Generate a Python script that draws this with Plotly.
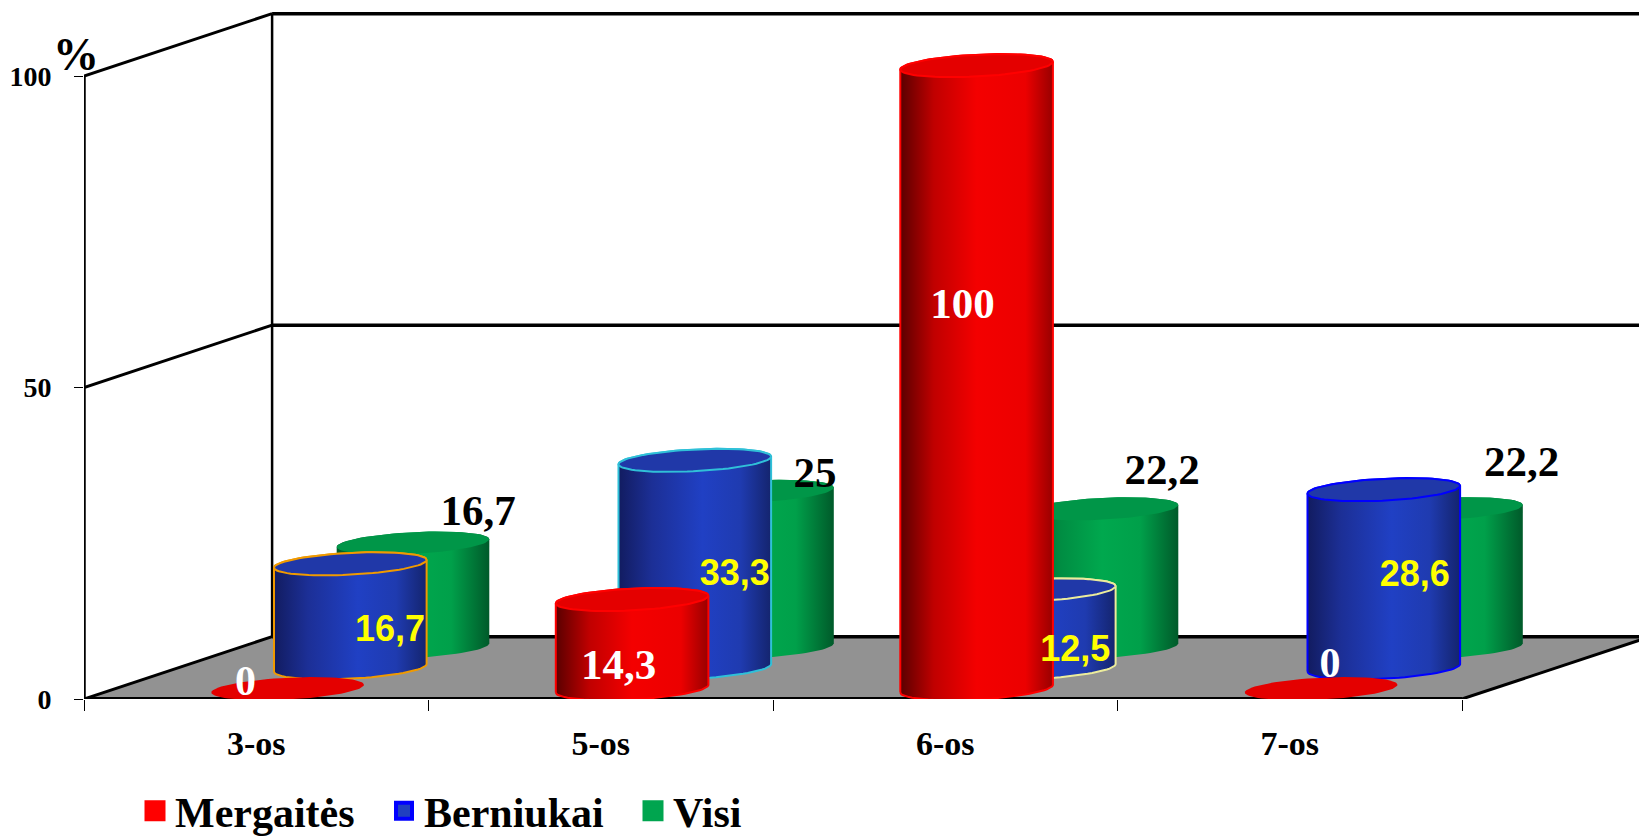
import numpy as np
import plotly.graph_objects as go

# ---- data ----
categories = ["3-os", "5-os", "6-os", "7-os"]
mergaites = [0, 14.3, 100, 0]
berniukai = [16.7, 33.3, 12.5, 28.6]
visi = [16.7, 25, 22.2, 22.2]
y_ticks = [0, 50, 100]

# ---- projection of the pseudo-3D chart, in axis units ----
PX_X, PX_Y = 344.5, 6.23          # pixels per category, per percent
DEPTH_X, DEPTH_Y = 0.546, 10.0    # offset of the back wall
RAD_X = 0.2215                    # cylinder half width
RAD_Y, TILT = 1.75, 0.62          # ellipse half height and shear
LABEL_DROP = 3.0                  # px

FRONT_Y = 699
X_MAX = (1639 - 84) / PX_X
Y_MAX = FRONT_Y / PX_Y


def scale_x(dx_px):
    return dx_px / PX_X


def scale_y(dy_px):
    return dy_px / PX_Y


def ellipse(cx, cy, t):
    return cx + RAD_X * np.cos(t), cy + RAD_Y * np.sin(t) + TILT * np.cos(t)


series = [
    dict(name="Visi", values=visi, row=2, swatch="#00a54f", swatch_line="#00a54f", swatch_w=5,
         top="#009648", outlines=[None] * 4,
         scale=[[0, "#005a2a"], [0.22, "#008c42"], [0.5, "#00a84e"], [0.75, "#00a04a"], [1, "#005a2a"]],
         shifts=[(65, 32), (57.5, 18), (60, 39), (75, 47)],
         font=dict(family="Liberation Serif", size=43, color="black", weight="bold")),
    dict(name="Berniukai", values=berniukai, row=1, swatch="#2040c0", swatch_line="#0000ff", swatch_w=4,
         top="#2038a8", outlines=["#f09a00", "#30c0d8", "#ecec9c", "#0000ff"],
         scale=[[0, "#121c60"], [0.22, "#1c2f96"], [0.55, "#2040c4"], [0.8, "#1f3bb0"], [1, "#14246e"]],
         shifts=[(39.7, -65), (40, -113), (36, -59), (31, -84)],
         font=dict(family="Liberation Sans", size=36, color="#ffff00", weight="bold")),
    dict(name="Mergaitės", values=mergaites, row=0, swatch="#ff0000", swatch_line="#ff0000", swatch_w=5,
         top="#e40000", outlines=["#ff0000"] * 4,
         scale=[[0, "#5a0000"], [0.22, "#c00000"], [0.5, "#f40000"], [0.82, "#ec0000"], [1, "#980000"]],
         shifts=[(-42, 7.6), (-13.4, -66), (-14, -239), (9, 25)],
         font=dict(family="Liberation Serif", size=[42, 43, 43, 42], color="white",
                   weight=["bold", "bold", "bold", "bold"])),
]

fig = go.Figure()

# legend entries
for s in reversed(series):
    fig.add_trace(go.Scatter(
        x=[None], y=[None], mode="markers", name=s["name"],
        marker=dict(symbol="square", size=16, color=s["swatch"],
                    line=dict(color=s["swatch_line"], width=s["swatch_w"])),
    ))


def line(xs, ys, width=2.5, color="black"):
    fig.add_trace(go.Scatter(x=xs, y=ys, mode="lines", showlegend=False, hoverinfo="skip",
                             cliponaxis=False if max(xs) <= 4 else True,
                             line=dict(color=color, width=width)))


n = len(categories)
# floor
fig.add_trace(go.Scatter(
    x=[0, n, n + DEPTH_X, DEPTH_X, 0], y=[0, 0, DEPTH_Y, DEPTH_Y, 0],
    mode="lines", fill="toself", fillcolor="#929292", showlegend=False, hoverinfo="skip",
    line=dict(color="rgba(0,0,0,0)", width=0),
))
# walls and floor edges
top = y_ticks[-1]
mid = y_ticks[1]
line([0, 0], [0, top], 3.5)
line([0, DEPTH_X], [top, top + DEPTH_Y], 3)
line([0, DEPTH_X], [mid, mid + DEPTH_Y], 3)
line([0, DEPTH_X], [0, DEPTH_Y], 3)
line([DEPTH_X, DEPTH_X], [DEPTH_Y, top + DEPTH_Y], 2.5)
line([DEPTH_X, n + DEPTH_X], [top + DEPTH_Y] * 2, 3.5)
line([DEPTH_X, n + DEPTH_X], [mid + DEPTH_Y] * 2, 3.5)
line([DEPTH_X, n + DEPTH_X], [DEPTH_Y] * 2, 3.5)
line([n, n + DEPTH_X], [0, DEPTH_Y], 3)
line([0, n], [0, 0], 4)

# cylinders, back row first
t_front = np.linspace(np.pi, 2 * np.pi, 40)
t_back = np.linspace(0, np.pi, 40)
t_full = np.linspace(0, 2 * np.pi, 80)
for s in series:
    f = (s["row"] + 0.5) / 3
    for i, v in enumerate(s["values"]):
        cx = i + 0.5 + f * DEPTH_X
        base = f * DEPTH_Y
        outline = s["outlines"][i]
        if v > 0:
            bx, by = ellipse(cx, base, t_front)
            tx, ty = ellipse(cx, base + v, t_back)
            fig.add_trace(go.Scatter(
                x=np.r_[bx, tx, bx[0]], y=np.r_[by, ty, by[0]],
                mode="lines", fill="toself", showlegend=False, hoverinfo="skip",
                fillgradient=dict(type="horizontal", colorscale=s["scale"]),
                line=dict(color=outline or "rgba(0,0,0,0)", width=2 if outline else 0),
            ))
        ex, ey = ellipse(cx, base + v, t_full)
        has_line = outline and v > 0
        fig.add_trace(go.Scatter(
            x=ex, y=ey, mode="lines", fill="toself", fillcolor=s["top"],
            showlegend=False, hoverinfo="skip",
            line=dict(color=outline if has_line else "rgba(0,0,0,0)", width=2 if has_line else 0),
        ))

# value labels
for s in series:
    f = (s["row"] + 0.5) / 3
    xs = [i + 0.5 + f * DEPTH_X + scale_x(d[0]) for i, d in enumerate(s["shifts"])]
    ys = [v + f * DEPTH_Y + scale_y(d[1] - LABEL_DROP) for v, d in zip(s["values"], s["shifts"])]
    fig.add_trace(go.Scatter(
        x=xs, y=ys, mode="text", showlegend=False, hoverinfo="skip", cliponaxis=False,
        text=[f"{v:g}".replace(".", ",") for v in s["values"]],
        textposition="middle center", textfont=s["font"],
    ))

fig.add_annotation(x=0, y=top, xref="x", yref="y", text="%", showarrow=False,
                   xshift=-8, yshift=22, font=dict(family="Liberation Serif", size=46, color="black", weight="bold"))

fig.update_layout(
    width=1639, height=836,
    margin=dict(l=84, r=0, t=0, b=836 - FRONT_Y, pad=0, autoexpand=False),
    paper_bgcolor="white", plot_bgcolor="white",
    showlegend=True,
    legend=dict(orientation="h", x=(135 - 84) / 1555, xanchor="left",
                y=(FRONT_Y - 811) / FRONT_Y, yanchor="middle",
                font=dict(family="Liberation Serif", size=42, color="black", weight="bold"),
                bgcolor="rgba(0,0,0,0)", itemclick=False, itemdoubleclick=False,
                traceorder="normal", tracegroupgap=0, itemwidth=30,
                entrywidth=204, entrywidthmode="pixels"),
    xaxis=dict(range=[0, X_MAX], showgrid=False, zeroline=False, showline=False,
               tickmode="array", tickvals=[i + 0.5 for i in range(n)], ticktext=categories,
               ticks="", ticklabelstandoff=21,
               minor=dict(ticks="outside", tick0=0, dtick=1, ticklen=11, tickwidth=1, tickcolor="black", showgrid=False),
               tickfont=dict(family="Liberation Serif", size=34, color="black", weight="bold")),
    yaxis=dict(range=[0, Y_MAX], showgrid=False, zeroline=False, showline=False,
               tickmode="array", tickvals=y_ticks, ticks="outside", ticklen=9, tickwidth=1, tickcolor="black",
               ticklabelstandoff=17,
               tickfont=dict(family="Liberation Serif", size=28, color="black", weight="bold")),
)

fig.write_html("out.html", config=dict(displayModeBar=False),
               post_script="document.body.style.margin='0';")
